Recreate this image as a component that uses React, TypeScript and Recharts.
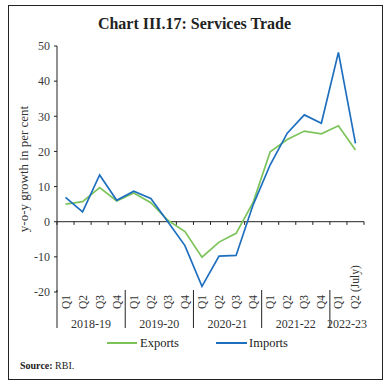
import { LineChart, Line, XAxis, YAxis, ReferenceLine } from "recharts";

const QUARTERS = [
  "Q1", "Q2", "Q3", "Q4",
  "Q1", "Q2", "Q3", "Q4",
  "Q1", "Q2", "Q3", "Q4",
  "Q1", "Q2", "Q3", "Q4",
  "Q1", "Q2 (July)",
];
const YEARS = ["2018-19", "2019-20", "2020-21", "2021-22", "2022-23"];
const QUARTERS_PER_YEAR = [4, 4, 4, 4, 2];

const EXPORTS = [5.0, 5.7, 9.7, 5.9, 8.2, 5.4, 0.4, -2.8, -10.1, -5.8, -3.3, 5.5, 19.9, 23.4, 25.8, 25.0, 27.3, 20.4];
const IMPORTS = [6.9, 2.8, 13.3, 6.1, 8.7, 6.6, 0.0, -6.8, -18.4, -9.8, -9.6, 4.8, 16.2, 25.2, 30.4, 28.0, 48.2, 22.3];

const Y_TICKS = [-20, -10, 0, 10, 20, 30, 40, 50];

const GREEN = "#7cc35a";
const BLUE = "#1f6fbf";
const INK = "#222";
const SERIF = "'Liberation Serif', 'Times New Roman', serif";

const data = QUARTERS.map((q, i) => ({
  pos: i + 0.5,
  quarter: q,
  exports: EXPORTS[i],
  imports: IMPORTS[i],
}));

// year group boundaries and centres, in category units
const starts: number[] = [];
let acc = 0;
QUARTERS_PER_YEAR.forEach((n) => {
  starts.push(acc);
  acc += n;
});
const total = acc;
const centres = QUARTERS_PER_YEAR.map((n, i) => starts[i] + n / 2);
const boundaries = Array.from({ length: total + 1 }, (_, i) => i);

function QuarterTick({ x, y, payload }: any) {
  const label = QUARTERS[Math.floor(payload.value)];
  return (
    <text
      transform={`translate(${x + 4},${y + 17}) rotate(-90)`}
      textAnchor="start"
      fontSize={11.5}
      fontFamily={SERIF}
      fill="#333"
    >
      {label}
    </text>
  );
}

function YearTick({ x, y, payload }: any) {
  const v = payload.value;
  const si = starts.indexOf(v);
  if (si >= 0) {
    return <line x1={x} x2={x} y1={y - 32} y2={y + 6} stroke={INK} strokeWidth={1} />;
  }
  const ci = centres.indexOf(v);
  return (
    <text x={x} y={y + 6} textAnchor="middle" fontSize={12} fontFamily={SERIF} fill="#333">
      {YEARS[ci]}
    </text>
  );
}

export default function App() {
  return (
    <div style={{ position: "relative", width: 389, height: 387, fontFamily: SERIF, background: "#fff" }}>
      <style>{"body{margin:0}"}</style>
      <div
        style={{
          position: "absolute",
          left: 8,
          top: 5,
          width: 375,
          height: 375,
          border: `1px solid ${INK}`,
          boxSizing: "border-box",
        }}
      />
      <div
        style={{
          position: "absolute",
          left: 0,
          top: 16,
          width: 389,
          textAlign: "center",
          fontSize: 16,
          lineHeight: "16px",
          fontWeight: "bold",
          color: "#222",
        }}
      >
        Chart III.17: Services Trade
      </div>
      <div
        style={{
          position: "absolute",
          left: 24 - 100,
          top: 169 - 7,
          width: 200,
          height: 14,
          lineHeight: "14px",
          fontSize: 13,
          textAlign: "center",
          color: "#333",
          transform: "rotate(-90deg)",
        }}
      >
        y-o-y growth in per cent
      </div>
      <div style={{ position: "absolute", left: 0, top: 0 }}>
        <LineChart width={389} height={387} data={data} margin={{ top: 46, right: 25, bottom: 45, left: 17 }}>
          <YAxis
            type="number"
            domain={[-20, 50]}
            ticks={Y_TICKS}
            interval={0}
            width={40}
            tickSize={3}
            tickMargin={4}
            stroke={INK}
            tick={{ fill: "#3a3a3a", fontSize: 12, fontFamily: SERIF }}
          />
          <XAxis
            type="number"
            dataKey="pos"
            domain={[0, total]}
            ticks={data.map((d) => d.pos)}
            interval={0}
            axisLine={false}
            tickLine={false}
            tickSize={0}
            tickMargin={0}
            height={30}
            tick={<QuarterTick />}
          />
          <XAxis
            xAxisId="yr"
            type="number"
            dataKey="pos"
            domain={[0, total]}
            ticks={[...starts, ...centres].sort((a, b) => a - b)}
            interval={0}
            axisLine={false}
            tickLine={false}
            tickSize={0}
            tickMargin={0}
            height={20}
            tick={<YearTick />}
          />
          <ReferenceLine y={0} stroke={INK} strokeWidth={1} />
          {boundaries.map((b) => (
            <ReferenceLine
              key={b}
              segment={[
                { x: b, y: 0 },
                { x: b, y: -0.9 },
              ]}
              stroke={INK}
              strokeWidth={1}
            />
          ))}
          <Line
            type="linear"
            dataKey="exports"
            stroke={GREEN}
            strokeWidth={1.7}
            dot={false}
            isAnimationActive={false}
          />
          <Line
            type="linear"
            dataKey="imports"
            stroke={BLUE}
            strokeWidth={1.7}
            dot={false}
            isAnimationActive={false}
          />
        </LineChart>
      </div>
      <div style={{ position: "absolute", left: 107, top: 342, width: 30, height: 2, background: GREEN }} />
      <div style={{ position: "absolute", left: 140, top: 336, fontSize: 12.5, lineHeight: "14px", color: "#222" }}>
        Exports
      </div>
      <div style={{ position: "absolute", left: 216, top: 342, width: 31, height: 2, background: BLUE }} />
      <div style={{ position: "absolute", left: 249, top: 336, fontSize: 12.5, lineHeight: "14px", color: "#222" }}>
        Imports
      </div>
      <div style={{ position: "absolute", left: 20, top: 361, fontSize: 10, lineHeight: "10px", color: "#222" }}>
        <b>Source:</b> RBI.
      </div>
    </div>
  );
}
